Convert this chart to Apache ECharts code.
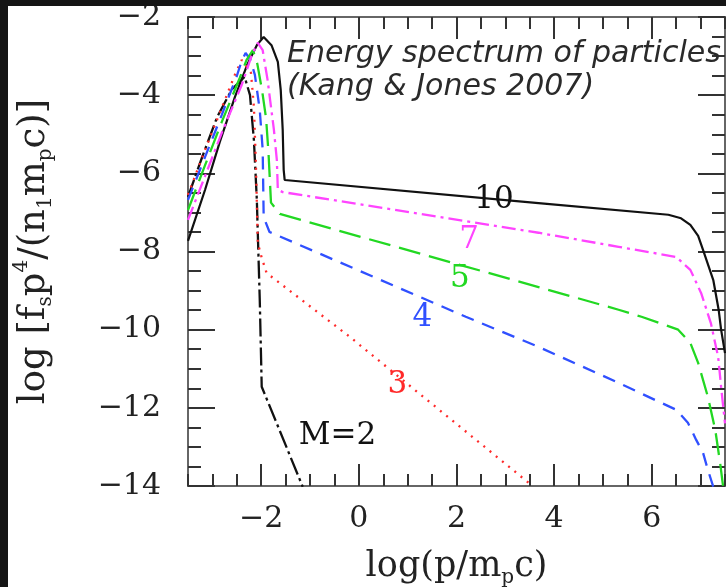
<!DOCTYPE html>
<html>
<head>
<meta charset="utf-8">
<script src="https://cdn.jsdelivr.net/npm/echarts@6/dist/echarts.min.js"></script>
<style>
  html, body { margin: 0; padding: 0; background: #151515; overflow: hidden; }
  #chart { position: absolute; left: 0; top: 0; width: 726px; height: 587px; }
</style>
</head>
<body>
<div id="chart"></div>
<script>
// Thermal + power-law momentum spectra, log(p/mpc) vs log[fs p^4/(n1 mp c)],
// one curve per shock Mach number.
const machNumbers = ['2', '3', '4', '5', '7', '10'];

const specM2 = [[-3.5,-6.6],[-3.2,-5.55],[-2.9,-4.55],[-2.6,-3.85],[-2.34,-3.53],[-2.23,-4.0],
  [-2.15,-5.15],[-2.09,-6.68],[-2.03,-9.24],[-1.99,-11.46],[-1.15,-14.02]];

const specM3 = [[-3.5,-6.55],[-3.15,-5.4],[-2.81,-4.33],[-2.54,-3.48],[-2.4,-3.1],[-2.21,-3.43],
  [-2.15,-4.3],[-2.11,-5.73],[-2.07,-7.78],[-1.99,-8.16],[-1.89,-8.55],[-0.19,-10.18],
  [3.48,-13.92],[3.54,-14.02]];

const specM4 = [[-3.5,-6.68],[-3.15,-5.58],[-2.81,-4.51],[-2.5,-3.51],[-2.4,-3.12],[-2.32,-2.92],
  [-2.22,-3.1],[-2.13,-3.48],[-2.03,-4.38],[-1.97,-5.4],[-1.95,-7.12],[-1.83,-7.5],[2.19,-9.67],
  [3.68,-10.44],[5.32,-11.36],[6.07,-11.8],[6.5,-12.05],[6.74,-12.38],[6.91,-12.82],
  [7.05,-13.15],[7.15,-13.59],[7.26,-14.02]];

const specM5 = [[-3.5,-6.94],[-3.15,-5.79],[-2.81,-4.69],[-2.44,-3.56],[-2.3,-3.1],[-2.17,-2.85],
  [-2.08,-3.2],[-1.98,-3.9],[-1.9,-4.6],[-1.85,-5.5],[-1.8,-6.75],[-1.62,-7.04],[3.68,-8.91],
  [5.32,-9.49],[5.79,-9.67],[6.54,-10.0],[6.79,-10.34],[6.95,-10.85],[7.15,-11.72],
  [7.3,-12.56],[7.4,-13.41],[7.46,-14.0]];

const specM7 = [[-3.5,-7.19],[-3.15,-6.07],[-2.81,-4.97],[-2.4,-3.74],[-2.2,-3.0],[-2.07,-2.66],
  [-1.97,-2.85],[-1.87,-3.61],[-1.74,-4.89],[-1.68,-5.66],[-1.66,-6.42],[-1.56,-6.48],
  [3.68,-7.52],[5.32,-7.88],[6.5,-8.14],[6.79,-8.47],[7.01,-9.06],[7.21,-9.83],[7.36,-10.7],
  [7.42,-11.46],[7.5,-12.4]];

const specM10 = [[-3.5,-7.73],[-3.15,-6.42],[-2.85,-5.2],[-2.54,-4.05],[-2.28,-3.2],[-2.09,-2.72],
  [-1.95,-2.51],[-1.79,-2.72],[-1.66,-3.15],[-1.6,-3.87],[-1.56,-4.89],[-1.54,-5.91],
  [-1.52,-6.17],[3.68,-6.76],[6.34,-7.06],[6.6,-7.15],[6.79,-7.32],[6.95,-7.6],[7.05,-7.96],
  [7.17,-8.4],[7.26,-8.73],[7.37,-9.49],[7.42,-10.0],[7.5,-10.6]];

// Axis ranges and tick values
const xRange = [-3.5, 7.5];
const yRange = [-14, -2];
const xMajorTicks = [-2, 0, 2, 4, 6];
const yMajorStep = 2;
const minorStep = 0.5;

// Text written next to each curve: label, anchor in data coordinates
const curveTags = ['10', '7', '5', '4', '3', 'M=2'];
const curveTagX = [2.77, 2.26, 2.07, 1.30, 0.79, -0.44];
const curveTagY = [-6.68, -7.70, -8.70, -9.70, -11.41, -12.72];

const SERIF = 'DejaVu Serif';
const INK = '#222';
const TICK = '#333';
const FRAME = '#666';

const colors = { '2': '#111', '3': '#ff2a2a', '4': '#3050ff', '5': '#22d822', '7': '#ff44ff', '10': '#111' };
const dashes = {
  '2': [18, 4, 3, 4],
  '3': [2, 6],
  '4': [13, 9],
  '5': [22, 9],
  '7': [14, 5, 3, 5],
  '10': 'solid'
};
const spectra = { '2': specM2, '3': specM3, '4': specM4, '5': specM5, '7': specM7, '10': specM10 };

const minus = v => String(v).replace('-', '\u2212');

function xAxisDef(position, major, showLabel, named) {
  const a = {
    type: 'value', position: position, min: xRange[0], max: xRange[1],
    axisLine: { show: true, onZero: false, lineStyle: { color: FRAME, width: 2 } },
    splitLine: { show: false },
    axisTick: { show: true, inside: true, length: major ? 22 : 12, lineStyle: { color: TICK, width: 2 } },
    axisLabel: { show: showLabel }
  };
  if (major) {
    a.axisTick.customValues = xMajorTicks;
    a.axisLabel.customValues = xMajorTicks;
  } else {
    a.interval = minorStep;
  }
  if (showLabel) {
    Object.assign(a.axisLabel, {
      formatter: minus, fontFamily: SERIF, fontSize: 30, color: INK, margin: 18
    });
  }
  if (named) {
    a.name = 'log(p/m{sub|p}c)';
    a.nameLocation = 'middle';
    a.nameGap = 60;
    a.nameTextStyle = {
      fontFamily: SERIF, fontSize: 35, color: INK, lineHeight: 42,
      rich: { sub: { fontFamily: SERIF, fontSize: 20, color: INK, lineHeight: 20, verticalAlign: 'bottom' } }
    };
  }
  return a;
}

function yAxisDef(position, major, showLabel, named) {
  const a = {
    type: 'value', position: position, min: yRange[0], max: yRange[1],
    interval: major ? yMajorStep : minorStep,
    axisLine: { show: true, onZero: false, lineStyle: { color: FRAME, width: 2 } },
    splitLine: { show: false },
    axisTick: { show: true, inside: true, length: major ? 27 : 13, lineStyle: { color: TICK, width: 2 } },
    axisLabel: { show: showLabel }
  };
  if (showLabel) {
    Object.assign(a.axisLabel, { formatter: minus, fontFamily: SERIF, fontSize: 30, color: INK, margin: 27 });
  }
  if (named) {
    a.name = 'log [f{sub|s}p{sup|4}/(n{sub|1}m{sub|p}c)]';
    a.nameLocation = 'middle';
    a.nameRotate = 90;
    a.nameGap = 132;
    a.nameTextStyle = {
      fontFamily: SERIF, fontSize: 37, color: INK, lineHeight: 44,
      rich: {
        sub: { fontFamily: SERIF, fontSize: 20, color: INK, lineHeight: 20, verticalAlign: 'bottom' },
        sup: { fontFamily: SERIF, fontSize: 20, color: INK, lineHeight: 20, verticalAlign: 'top' }
      }
    };
  }
  return a;
}

const lineSeries = machNumbers.map(m => ({
  name: 'M=' + m,
  type: 'line',
  xAxisIndex: 0, yAxisIndex: 0,
  data: spectra[m],
  showSymbol: false,
  symbol: 'none',
  clip: true,
  z: m === '10' ? 3 : 4,
  lineStyle: { color: colors[m], width: m === '10' ? 2.2 : 2.3, type: dashes[m], cap: 'butt' }
}));

const tagColors = ['#111', colors['7'], colors['5'], colors['4'], colors['3'], '#111'];
const tagSeries = {
  type: 'scatter',
  xAxisIndex: 0, yAxisIndex: 0,
  symbolSize: 1,
  itemStyle: { color: 'rgba(0,0,0,0)', opacity: 1 },
  silent: true,
  z: 6,
  data: curveTags.map((t, i) => ({
    name: t, value: [curveTagX[i], curveTagY[i]],
    label: { color: tagColors[i] }
  })),
  label: {
    show: true, position: 'inside', formatter: '{b}', opacity: 1,
    fontFamily: SERIF, fontSize: 31, color: '#111'
  }
};

const chart = echarts.init(document.getElementById('chart'), null, { renderer: 'canvas' });
chart.setOption({
  backgroundColor: '#ffffff',
  animation: false,
  title: {
    text: 'Energy spectrum of particles\n(Kang & Jones 2007)',
    left: 282, top: 33,
    textStyle: {
      fontFamily: 'DejaVu Sans', fontStyle: 'italic', fontWeight: 'normal',
      fontSize: 30, lineHeight: 33, color: '#2a2a2a'
    }
  },
  grid: { left: 188, right: 1, top: 17, bottom: 101, containLabel: false, outerBoundsMode: 'none' },
  xAxis: [
    xAxisDef('bottom', true, true, true),
    xAxisDef('bottom', false, false, false),
    xAxisDef('top', true, false, false),
    xAxisDef('top', false, false, false)
  ],
  yAxis: [
    yAxisDef('left', true, true, true),
    yAxisDef('left', false, false, false),
    yAxisDef('right', true, false, false),
    yAxisDef('right', false, false, false)
  ],
  series: lineSeries.concat([tagSeries]),
  graphic: [
    { type: 'rect', z: 100, shape: { x: 0, y: 0, width: 726, height: 6 }, style: { fill: '#151515' } },
    { type: 'rect', z: 100, shape: { x: 0, y: 0, width: 8, height: 587 }, style: { fill: '#151515' } }
  ]
});
</script>
</body>
</html>
